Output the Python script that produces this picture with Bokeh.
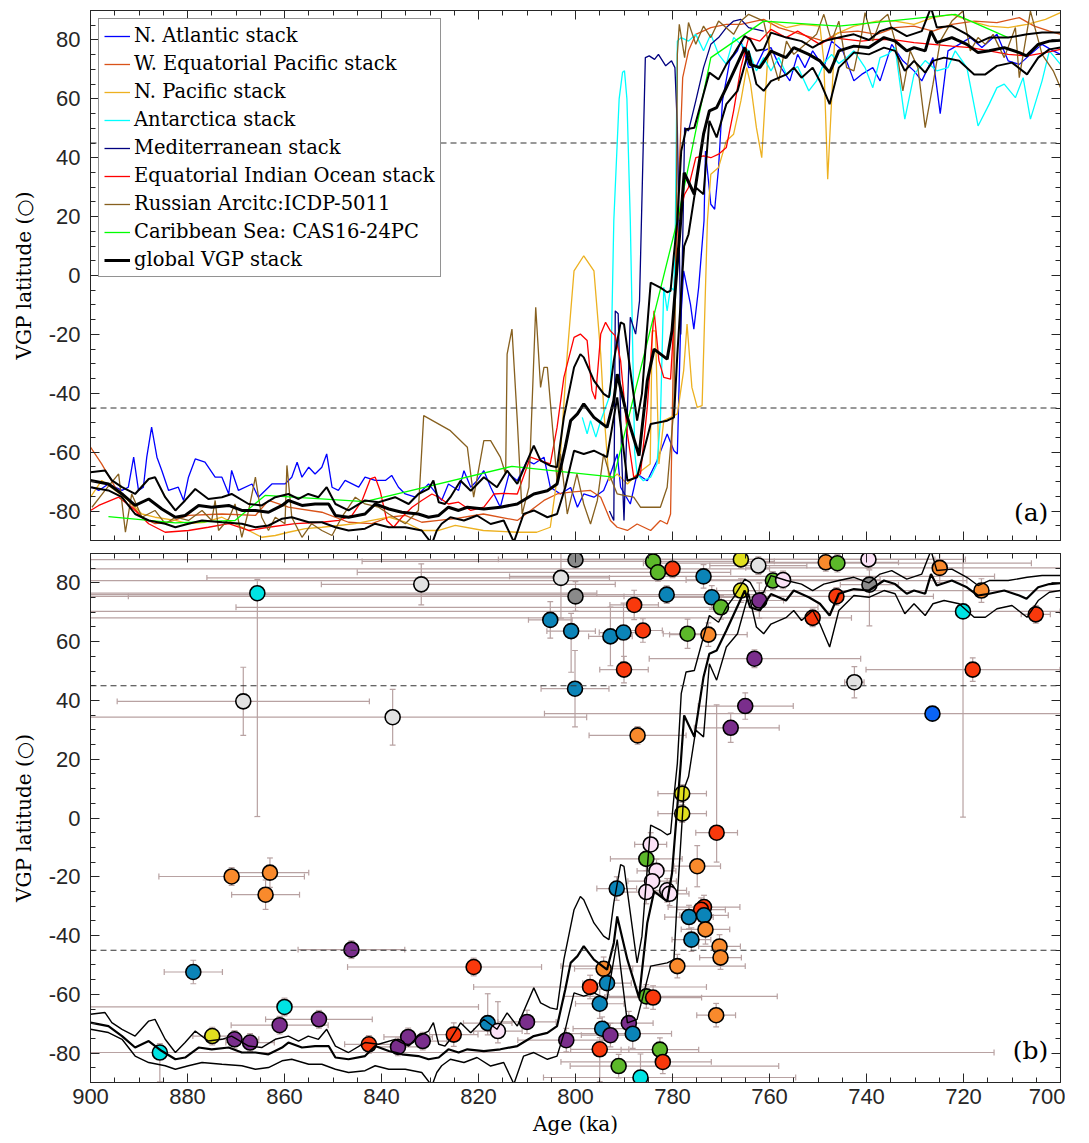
from bokeh.plotting import figure
from bokeh.models import Range1d, FixedTicker, LinearAxis, Span, Label
from bokeh.layouts import column
from bokeh.embed import file_html
from bokeh.resources import INLINE

# ---------------- panel (a): regional stacks ----------------
na_age = [899.7, 898.3, 896.3, 893.5, 892.2, 891.1, 890.1, 889.1, 888.4, 887.4, 886.3, 885.3, 883.9, 881.9, 880.8, 879.8, 878.4, 876.4, 874.3, 872.9, 871.5, 870.9, 869.5, 866.7, 865.4, 862.6, 859.9, 858.5, 857.4, 856.4, 855.0, 853.7, 852.3, 851.3, 850.2, 848.9, 847.5, 844.7, 843.4, 841.3, 839.2, 837.9, 836.5, 835.1, 833.0, 830.3, 827.6, 826.2, 824.1, 823.0, 821.6, 820.3, 818.9, 817.5, 815.5, 813.7, 812.0, 810.0, 808.6, 806.5, 805.2, 803.1, 801.0, 799.6, 798.3, 796.2, 794.2, 792.8, 791.4, 790.7, 788.7, 787.3, 785.2, 783.2, 781.1, 779.7, 779.0, 778.3, 777.7, 776.3, 775.6, 774.6, 773.5, 773.2, 772.1, 771.3, 770.5, 769.7, 768.2, 766.6, 765.9, 764.3, 762.7, 761.2, 759.7, 758.1, 755.8, 754.2, 752.7, 751.1, 748.8, 747.2, 744.9, 742.6, 741.0, 738.7, 737.2, 734.8, 732.5, 730.2, 728.6, 726.3, 724.8, 723.2, 720.9, 718.6, 716.2, 713.1, 710.8, 708.5, 706.2, 703.8, 701.5, 700.0]
na_lat = [-71.9, -73.0, -70.8, -73.0, -71.9, -61.7, -73.0, -71.9, -61.7, -51.5, -61.7, -66.2, -73.0, -71.9, -76.4, -68.5, -62.3, -63.4, -68.5, -68.5, -74.2, -66.2, -73.0, -70.8, -75.3, -70.8, -70.8, -68.5, -63.4, -68.5, -65.1, -67.4, -65.1, -60.6, -71.9, -73.0, -69.6, -71.9, -68.5, -69.6, -69.6, -67.9, -71.9, -74.2, -75.3, -70.8, -76.4, -70.8, -73.0, -66.3, -71.9, -69.7, -66.3, -71.9, -78.7, -67.4, -69.7, -62.9, -64.0, -61.7, -71.9, -74.2, -72.0, -78.7, -74.2, -75.3, -73.0, -67.4, -60.6, -71.9, -77.6, -67.4, -69.7, -62.9, -53.8, -59.5, -60.6, -15.4, 1.6, -9.7, -18.2, -4.0, 18.6, 42.3, 24.2, 22.5, 36.7, 59.3, 72.9, 76.3, 79.6, 70.6, 71.2, 76.3, 77.4, 71.7, 66.1, 75.1, 70.6, 76.3, 70.6, 79.6, 76.3, 66.1, 68.3, 70.6, 66.1, 78.5, 72.9, 69.5, 66.1, 74.0, 55.0, 76.3, 78.5, 80.8, 77.4, 81.9, 72.9, 71.7, 75.1, 78.5, 76.3, 75.1]

wep_age = [900.0, 897.7, 894.9, 892.2, 889.4, 886.7, 883.9, 879.8, 872.9, 866.0, 863.3, 859.2, 852.3, 846.8, 842.0, 838.5, 835.1, 831.7, 828.2, 824.8, 819.0, 812.0, 806.5, 803.8, 801.0, 796.9, 794.8, 792.8, 791.4, 789.3, 787.3, 784.5, 782.5, 781.1, 780.4, 779.7, 779.0, 777.9, 776.7, 775.2, 772.1, 768.9, 765.9, 761.2, 758.1, 753.4, 748.8, 745.7, 741.8, 737.9, 734.1, 730.2, 726.3, 722.4, 717.8, 713.1, 708.5, 705.4, 702.3, 700.0]
wep_lat = [-58.3, -64.0, -71.9, -76.4, -82.1, -84.3, -83.8, -81.5, -81.0, -81.5, -76.4, -78.7, -80.4, -83.8, -84.3, -82.1, -81.5, -83.8, -83.2, -82.6, -81.0, -83.2, -76.4, -74.2, -73.6, -73.0, -75.3, -83.2, -85.5, -86.6, -84.4, -86.6, -83.2, -84.4, -81.0, -15.4, 18.6, 67.2, 76.3, 81.9, 84.2, 85.3, 85.3, 87.0, 84.2, 81.9, 79.6, 82.5, 83.0, 81.9, 84.2, 84.7, 83.0, 85.3, 86.4, 85.9, 87.6, 84.7, 83.0, 81.9]

np_age = [900.0, 897.7, 894.9, 892.2, 889.4, 886.7, 882.5, 879.8, 876.4, 872.9, 870.2, 867.4, 864.7, 861.9, 859.2, 855.7, 852.3, 848.8, 845.4, 842.0, 838.5, 835.1, 831.7, 828.2, 824.8, 819.0, 812.0, 808.0, 805.2, 803.1, 801.7, 800.3, 798.3, 796.2, 794.8, 794.2, 793.1, 791.4, 789.3, 787.3, 784.6, 784.2, 783.5, 782.8, 781.8, 780.4, 779.0, 777.7, 777.0, 776.0, 774.9, 773.9, 772.8, 772.1, 770.5, 768.9, 767.4, 765.9, 764.7, 763.9, 762.7, 761.6, 760.5, 759.7, 756.5, 753.4, 749.6, 748.8, 748.0, 747.2, 746.5, 742.6, 737.9, 734.1, 730.2, 726.3, 722.4, 718.6, 714.7, 710.8, 706.9, 703.1, 700.0]
np_lat = [-75.3, -69.6, -73.0, -76.4, -81.0, -82.1, -83.2, -84.3, -83.8, -82.1, -84.3, -86.6, -88.9, -88.3, -87.2, -86.0, -85.5, -84.9, -84.3, -83.2, -82.1, -83.8, -86.6, -86.6, -84.9, -86.6, -87.2, -87.2, -85.5, -60.6, -26.7, 1.6, 6.7, 1.6, -26.7, -44.8, -69.7, -67.4, -70.8, -67.4, -64.0, -18.8, -18.8, -64.0, -49.3, -48.2, -47.0, -32.3, -16.5, -38.0, -44.8, -44.2, 18.6, 34.4, 36.7, 45.7, 48.0, 59.3, 70.6, 65.0, 50.2, 40.0, 70.6, 86.4, 84.2, 85.3, 84.7, 72.9, 32.7, 59.3, 81.9, 84.7, 86.4, 86.4, 85.3, 87.6, 88.7, 86.4, 84.7, 84.2, 85.3, 87.0, 89.3]

ant_age = [798.6, 797.6, 796.9, 795.8, 794.8, 793.8, 792.8, 792.1, 791.0, 790.3, 789.9, 789.4, 788.7, 787.8, 787.3, 786.0, 784.5, 783.2, 782.5, 781.8, 781.1, 780.4, 779.7, 779.4, 779.0, 778.2, 776.7, 775.2, 773.6, 772.1, 770.5, 768.9, 767.4, 765.9, 764.3, 762.7, 761.2, 759.7, 758.1, 756.5, 754.2, 751.9, 750.3, 748.8, 747.2, 745.7, 744.1, 742.6, 740.3, 738.7, 737.2, 735.6, 734.1, 732.1, 730.2, 727.9, 725.5, 723.2, 721.7, 719.3, 717.0, 714.7, 713.1, 711.6, 709.3, 707.7, 706.2, 703.8, 702.3, 700.0]
ant_lat = [-48.2, -53.8, -49.3, -54.9, -49.3, -44.8, -40.2, 18.6, 60.0, 69.0, 69.5, 60.0, 18.6, -60.0, -67.4, -69.7, -68.5, -64.0, -49.3, -4.0, -12.0, -4.0, -5.0, 18.6, 79.6, 80.8, 79.6, 81.9, 76.3, 81.9, 75.1, 71.7, 80.8, 78.5, 76.3, 69.5, 74.0, 69.5, 74.0, 68.3, 71.0, 62.7, 66.1, 72.0, 75.1, 72.0, 74.0, 76.3, 70.6, 63.8, 74.0, 75.1, 77.4, 53.1, 68.3, 73.0, 69.5, 70.6, 76.3, 70.6, 50.8, 58.2, 63.8, 65.0, 60.4, 67.2, 53.1, 66.1, 76.3, 71.7]

med_age = [793.0, 792.1, 791.8, 791.2, 790.5, 790.0, 788.7, 787.6, 786.8, 785.6, 784.8, 783.7, 782.9, 781.4, 780.2, 779.5, 779.0, 778.3, 777.8, 777.5, 776.7, 775.2, 773.6, 772.1, 770.5, 768.9, 767.4, 765.9, 764.3, 761.2]
med_lat = [-80.0, -83.2, -12.0, -13.0, -60.6, -83.2, -14.2, -19.9, -8.6, 74.0, 74.6, 73.4, 75.1, 71.2, 72.9, 70.6, 50.2, -20.0, 20.0, 50.2, 49.1, 59.3, 70.6, 78.5, 80.8, 84.2, 86.4, 87.0, 84.2, 83.0]

eio_age = [900.0, 898.3, 894.2, 891.5, 888.0, 884.6, 879.8, 875.7, 871.5, 867.4, 863.3, 857.8, 852.3, 848.8, 846.1, 844.0, 842.3, 841.3, 840.3, 838.9, 837.5, 835.8, 833.7, 831.7, 829.6, 828.2, 826.2, 824.1, 821.6, 818.9, 816.8, 814.8, 812.0, 809.3, 807.2, 805.2, 803.8, 802.4, 800.3, 799.0, 797.6, 796.6, 795.9, 794.8, 793.8, 792.8, 791.8, 790.7, 789.3, 788.0, 786.6, 785.2, 783.8, 782.8, 781.8, 780.4, 779.7, 779.0, 777.5, 776.7, 775.2, 773.6, 772.1, 770.5, 768.9, 767.4, 765.9, 764.3, 762.0, 759.7, 756.6, 754.2, 751.9, 749.6, 747.2, 744.1, 741.0, 737.9, 734.1, 730.2, 726.3, 722.4, 718.6, 714.7, 710.8, 706.9, 703.1, 700.0]
eio_lat = [-79.8, -78.1, -75.3, -78.7, -84.3, -87.2, -86.6, -85.5, -84.3, -86.6, -85.5, -84.3, -83.8, -83.2, -81.5, -76.4, -69.1, -68.5, -73.0, -83.2, -85.5, -82.1, -78.7, -76.4, -74.2, -75.3, -77.6, -77.0, -79.8, -78.7, -74.2, -74.0, -74.2, -61.7, -62.9, -64.0, -51.6, -34.6, -21.0, -19.9, -22.1, -39.1, -42.0, -19.9, -15.9, -18.8, -20.5, -28.9, -53.8, -68.5, -67.4, -44.8, -12.0, -28.9, -34.6, -35.2, -15.4, 18.6, 27.6, 29.9, 40.0, 40.6, 40.0, 41.2, 43.5, 55.9, 70.6, 80.8, 79.6, 83.6, 80.8, 83.0, 80.8, 78.5, 80.8, 80.2, 79.6, 80.2, 80.0, 79.1, 78.5, 77.9, 77.4, 76.3, 75.1, 74.6, 75.7, 76.8]

ra_age = [899.7, 897.0, 894.2, 892.8, 891.5, 889.4, 886.7, 884.6, 882.5, 879.8, 877.0, 875.0, 874.3, 873.6, 871.5, 870.2, 868.8, 867.4, 866.0, 864.7, 863.3, 861.9, 859.9, 859.5, 858.5, 856.4, 854.4, 852.3, 850.2, 848.2, 845.4, 843.4, 840.6, 838.5, 835.1, 832.4, 831.3, 825.8, 822.3, 821.0, 818.9, 817.5, 815.5, 814.4, 814.1, 813.1, 812.0, 811.0, 809.6, 808.2, 807.2, 806.5, 805.8, 803.8, 803.1, 801.7, 799.7, 798.3, 796.9, 795.5, 794.2, 792.8, 791.4, 790.0, 788.0, 786.6, 782.5, 781.1, 779.7, 779.2, 779.0, 778.6, 777.5, 776.7, 775.2, 773.6, 772.1, 770.5, 767.4, 765.9, 764.3, 761.2, 759.7, 758.1, 756.5, 755.0, 753.4, 751.9, 750.3, 748.8, 747.2, 745.7, 744.1, 742.6, 741.0, 740.3, 738.7, 737.2, 735.6, 734.1, 732.5, 731.0, 729.4, 727.9, 726.3, 724.8, 722.4, 720.1, 718.6, 717.0, 715.5, 713.9, 711.6, 709.3, 708.5, 706.2, 703.8, 701.5, 700.0]
ra_lat = [-78.7, -73.0, -67.4, -87.2, -74.2, -82.1, -79.8, -84.3, -82.1, -83.2, -79.8, -83.2, -76.4, -86.6, -82.6, -77.6, -88.9, -79.8, -68.5, -82.1, -86.6, -82.1, -84.3, -64.5, -82.1, -88.9, -84.3, -86.6, -88.3, -82.1, -75.3, -77.6, -78.7, -81.0, -84.3, -79.8, -47.6, -52.7, -58.3, -75.3, -56.1, -56.1, -61.7, -67.4, -26.7, -18.2, -49.3, -81.0, -71.9, -10.8, -38.0, -31.2, -31.2, -69.7, -60.6, -81.0, -67.4, -77.6, -84.4, -76.4, -60.6, -68.5, -74.2, -74.7, -75.3, -78.7, -78.7, -71.9, -44.8, 18.6, 75.1, 85.3, 74.0, 85.9, 78.5, 84.7, 80.8, 86.4, 81.9, 86.4, 88.7, 86.4, 75.1, 66.1, 79.6, 75.1, 77.4, 79.6, 81.9, 88.7, 79.6, 86.4, 70.6, 69.5, 81.9, 89.3, 79.6, 86.4, 88.7, 79.6, 62.7, 76.3, 70.6, 50.2, 64.9, 79.6, 86.4, 89.8, 76.3, 80.8, 78.5, 81.9, 74.0, 84.2, 67.2, 89.8, 75.1, 69.5, 63.8]

car_age = [896.3, 882.5, 870.2, 864.0, 843.4, 813.1, 792.1, 779.0, 772.1, 761.2, 745.7, 721.7, 710.8]
car_lat = [-81.9, -84.0, -83.2, -74.7, -76.8, -64.8, -68.5, 18.6, 74.0, 86.4, 84.7, 88.7, 80.8]

# ---------------- global VGP stack (centre, upper, lower) ----------------
gc_age = [900.0, 896.3, 893.5, 890.8, 888.0, 885.3, 882.5, 880.5, 877.7, 875.0, 871.5, 868.8, 866.0, 863.3, 860.5, 859.2, 856.4, 853.7, 850.9, 849.5, 846.8, 843.4, 841.3, 838.5, 835.8, 832.4, 830.3, 828.2, 826.2, 824.1, 822.3, 818.9, 815.5, 812.0, 808.6, 805.8, 803.8, 802.1, 801.0, 799.6, 798.3, 796.2, 793.5, 792.1, 791.4, 789.3, 786.9, 785.2, 783.8, 781.1, 780.1, 778.3, 777.6, 775.5, 773.6, 772.4, 770.9, 768.9, 767.0, 765.1, 764.0, 762.0, 759.7, 756.6, 755.0, 751.9, 749.6, 747.6, 745.7, 742.6, 739.5, 736.4, 734.1, 731.7, 730.2, 727.9, 726.7, 725.5, 722.4, 719.3, 717.0, 714.7, 711.6, 708.5, 707.0, 704.6, 702.3, 700.0]
gc_lat = [-69.6, -70.8, -74.2, -78.1, -75.9, -79.3, -82.1, -81.5, -78.1, -78.7, -78.1, -79.8, -79.8, -80.4, -78.1, -76.4, -78.1, -77.6, -77.6, -81.5, -82.1, -81.0, -77.6, -79.3, -80.4, -81.0, -82.1, -81.5, -78.7, -79.8, -78.7, -79.3, -78.7, -77.6, -74.2, -73.1, -70.8, -58.3, -49.3, -47.0, -43.6, -48.2, -51.6, -42.5, -33.5, -48.2, -61.2, -35.7, -25.0, -28.4, -18.8, 18.6, 34.9, 27.6, 48.0, 55.9, 57.0, 63.8, 70.6, 77.4, 71.7, 70.6, 76.2, 74.0, 77.4, 75.1, 72.9, 68.9, 76.3, 77.9, 77.4, 80.8, 79.6, 76.3, 77.4, 76.3, 83.0, 79.1, 80.8, 78.5, 75.7, 76.3, 77.4, 75.7, 74.6, 78.5, 79.6, 79.9]

gu_age = [900.0, 897.0, 895.6, 893.5, 890.8, 888.0, 886.7, 884.6, 882.5, 880.5, 878.4, 875.7, 872.9, 870.9, 867.4, 864.7, 861.9, 859.2, 857.1, 855.1, 853.0, 851.3, 849.5, 846.8, 843.4, 840.6, 837.2, 834.4, 832.4, 830.3, 829.3, 828.2, 826.9, 825.8, 823.7, 821.6, 818.9, 816.2, 814.1, 812.0, 808.6, 807.2, 805.2, 803.8, 802.4, 800.3, 799.0, 798.3, 796.2, 794.2, 793.1, 792.1, 790.7, 790.0, 788.7, 787.3, 786.3, 784.5, 782.5, 781.1, 780.4, 779.7, 779.0, 778.2, 777.2, 775.5, 774.0, 772.4, 770.5, 768.9, 767.4, 765.1, 764.0, 762.7, 761.2, 759.7, 756.5, 753.4, 751.1, 748.8, 745.7, 742.6, 739.5, 737.2, 734.8, 731.7, 728.6, 726.7, 725.5, 722.4, 719.3, 717.0, 714.7, 710.8, 706.9, 703.8, 700.0]
gu_lat = [-66.8, -66.2, -69.6, -71.9, -74.2, -69.1, -68.5, -75.3, -79.8, -76.4, -72.5, -75.9, -75.3, -74.2, -77.6, -78.1, -75.3, -74.2, -75.9, -74.2, -75.3, -71.9, -77.6, -79.8, -76.4, -77.0, -75.3, -77.6, -74.2, -72.5, -69.6, -77.0, -77.6, -75.3, -69.7, -73.1, -68.5, -71.9, -66.3, -70.8, -57.8, -62.9, -64.6, -65.1, -48.2, -31.2, -26.7, -27.8, -35.7, -40.2, -41.4, -28.9, -15.9, -16.5, -32.3, -49.3, -40.2, -2.4, -4.1, -5.7, -5.2, 7.3, 18.6, 42.3, 49.7, 50.2, 59.3, 68.9, 66.6, 71.7, 75.1, 81.3, 80.2, 76.3, 76.8, 82.5, 80.8, 79.6, 77.4, 79.6, 80.8, 81.9, 80.0, 83.0, 84.2, 81.3, 83.0, 91.0, 84.2, 84.7, 81.9, 79.1, 80.8, 80.8, 81.9, 82.5, 82.5]

gl_age = [900.0, 896.3, 893.5, 890.8, 888.0, 884.6, 882.5, 879.8, 877.0, 872.9, 868.8, 866.0, 863.3, 860.5, 858.5, 855.0, 852.3, 849.5, 846.8, 843.4, 841.3, 838.5, 835.1, 831.7, 829.6, 828.6, 827.6, 825.8, 823.0, 820.3, 817.5, 814.8, 812.7, 810.7, 808.6, 805.8, 803.8, 802.1, 800.3, 798.3, 796.2, 793.5, 791.4, 789.3, 787.3, 784.5, 781.1, 779.7, 779.0, 777.6, 776.7, 775.2, 773.6, 772.4, 770.9, 768.9, 766.6, 764.3, 762.7, 761.2, 759.7, 756.5, 755.0, 753.4, 751.1, 749.6, 747.6, 745.7, 742.6, 739.5, 736.4, 734.1, 732.1, 730.2, 727.9, 726.3, 724.0, 720.9, 717.8, 715.5, 713.1, 710.0, 706.9, 704.6, 702.3, 700.0]
gl_lat = [-71.9, -73.0, -75.3, -81.0, -83.2, -84.3, -85.5, -84.3, -83.2, -83.8, -84.3, -85.5, -84.9, -82.6, -82.1, -83.8, -83.8, -85.5, -86.6, -86.0, -84.3, -85.5, -85.5, -86.6, -91.1, -86.6, -84.3, -82.1, -83.2, -81.5, -84.4, -83.2, -90.5, -81.0, -79.8, -82.1, -81.0, -71.9, -59.5, -60.6, -59.5, -61.7, -41.4, -69.7, -68.5, -50.4, -49.3, -48.2, -26.7, 10.0, 14.0, 29.9, 27.6, 52.5, 46.9, 58.2, 62.7, 76.3, 65.0, 62.7, 66.0, 68.3, 70.6, 67.2, 70.6, 66.0, 58.2, 70.6, 75.7, 75.1, 77.4, 76.3, 69.5, 72.9, 68.9, 72.9, 74.0, 72.9, 68.3, 68.3, 71.2, 72.3, 68.3, 74.0, 76.8, 77.4]

# ---------------- panel (b): individual records ----------------
pt_age = [865.6, 831.8, 868.5, 837.7, 800.0, 803.0, 800.0, 805.2, 800.9, 800.1, 792.8, 790.1, 787.9, 786.1, 790.0, 787.2, 784.0, 783.0, 780.0, 781.2, 773.6, 771.9, 770.0, 776.9, 772.6, 765.9, 762.3, 765.9, 762.1, 759.3, 757.2, 763.1, 765.0, 768.0, 748.4, 746.0, 739.6, 746.2, 751.1, 739.4, 724.9, 716.3, 720.1, 705.1, 718.1, 742.5, 726.4, 778.0, 778.0, 770.9,
          784.5, 785.4, 774.9, 783.3, 784.2, 791.5, 785.4, 781.1, 780.6, 773.5, 774.1, 776.6, 773.5, 773.2, 776.1, 770.3, 770.1, 779.0, 794.2, 793.5, 797.0, 795.0, 785.4, 784.0, 771.0, 789.0, 794.5, 792.8, 788.2, 801.9, 795.0, 782.6, 782.0, 791.1, 786.6,
          870.9, 863.0, 863.9, 846.2, 878.8, 821.0, 860.0, 852.9, 861.0, 818.1, 816.0, 810.0, 874.9, 825.1, 870.3, 867.1, 842.6, 834.5, 836.6, 831.5, 885.7]
pt_lat = [76.5, 79.5, 39.7, 34.3, 87.9, 81.7, 75.4, 67.4, 63.6, 44.0, 61.8, 63.1, 72.5, 63.8, 50.5, 28.1, 87.3, 83.6, 84.8, 76.0, 82.2, 75.1, 71.7, 62.7, 62.4, 88.0, 85.9, 77.4, 74.0, 80.8, 81.0, 54.2, 38.1, 30.7, 87.0, 86.7, 88.0, 75.4, 68.1, 79.4, 85.1, 77.4, 70.3, 69.3, 50.5, 46.2, 35.5, 8.3, 1.5, -5.0,
          -9.0, -13.9, -16.4, -18.0, -21.5, -24.0, -25.2, -24.6, -25.8, -30.3, -31.2, -33.7, -33.1, -37.9, -41.4, -43.7, -47.5, -50.4, -51.3, -56.2, -57.5, -63.2, -60.7, -61.1, -67.1, -69.8, -71.7, -73.9, -73.4, -75.6, -78.7, -78.8, -83.0, -84.4, -88.3,
          -19.9, -18.6, -26.1, -44.8, -52.4, -50.7, -64.3, -68.5, -70.5, -69.8, -72.5, -69.4, -74.2, -73.7, -75.3, -76.4, -77.0, -74.5, -77.9, -75.9, -79.8]
pt_group = ["cyan", "lgray", "lgray", "lgray", "dgray", "lgray", "dgray", "teal", "teal", "teal", "teal", "teal", "red", "red", "red", "orange", "green", "green", "red", "teal", "teal", "teal", "green", "green", "orange", "yellow", "lgray", "yellow", "purple", "green", "lpink", "purple", "purple", "purple", "orange", "green", "lpink", "red", "red", "dgray", "orange", "orange", "cyan", "red", "red", "lgray", "blue", "yellow", "yellow", "red",
            "lpink", "green", "orange", "lpink", "lpink", "teal", "lpink", "lpink", "lpink", "red", "red", "teal", "teal", "orange", "teal", "orange", "orange", "orange", "orange", "teal", "red", "teal", "green", "red", "orange", "purple", "teal", "purple", "teal", "purple", "red", "green", "red", "green", "cyan",
            "orange", "orange", "orange", "purple", "teal", "red", "cyan", "purple", "purple", "teal", "lpink", "purple", "yellow", "red", "purple", "purple", "red", "purple", "purple", "purple", "cyan"]
# age uncertainty towards older ages, towards younger ages (ka); latitude uncertainty down / up (deg)
err_old = [35, 20.6, 26, 70, 100, 73, 100, 4.5, 5, 7, 4.5, 5, 5, 4, 5, 10, 60, 62, 120, 119, 40, 10, 100, 5, 8, 50, 10, 5, 10, 141, 20, 21.7, 9.7, 7.5, 15, 40, 60, 146, 149, 6, 40, 50, 180, 3, 22, 2, 80, 5, 5, 4.3,
           3.3, 7.4, 4.8, 4, 5, 4.1, 5, 4, 4, 7.4, 5, 5, 5, 5, 4, 4.3, 4.3, 24, 6, 5, 24, 5, 17, 10, 4, 5, 6, 6, 14, 10, 6, 8, 21, 10, 20,
           15, 8, 7, 11, 6, 26, 40, 11, 10, 5, 5, 6, 4, 5, 5, 5, 5, 5, 5, 5, 15]
err_young = [70, 40, 26, 40, 15, 10, 10, 4.5, 5, 7, 4.5, 5, 5, 4, 5, 10, 25, 15, 20, 20, 60, 10, 20, 5, 8, 40, 10, 5, 5, 40, 20, 21.9, 9.9, 10, 15, 40, 20, 20, 8, 6, 30, 20, 20, 3, 18, 2, 30, 5, 5, 4.3,
             3.3, 7.4, 4.8, 4, 5, 4.1, 5, 4, 4, 7.4, 5, 5, 5, 5, 4, 4.3, 4.3, 14, 6, 5, 24, 5, 27, 10, 4, 5, 6, 6, 8, 10, 6, 8, 10, 33, 32,
             15, 8, 7, 11, 6, 14, 40, 11, 10, 5, 5, 6, 4, 5, 5, 5, 5, 5, 5, 5, 172]
err_down = [76, 7, 11.6, 9.5, 3, 13.7, 5, 6.2, 14, 13, 10, 10, 5, 4, 4.5, 3, 3, 3, 3, 3, 4, 4, 4, 5, 4, 3, 3, 4, 6, 3, 3, 3, 4.5, 5, 3, 3, 3, 3, 3, 14, 5, 4, 70, 3, 4, 5.3, 2, 3, 3, 10,
            4, 4, 7, 4, 4, 4, 4, 4, 4, 4, 4, 4, 4, 5, 4, 4, 4, 4, 4, 4, 4, 5, 4, 4, 4, 4, 4, 4, 5, 4, 11, 4, 4, 4, 4,
            3, 5, 5, 3, 4, 3, 3, 3, 3, 4, 4, 4, 3, 4, 3, 3, 3, 3, 3, 3, 10]
err_up = [4.7, 7, 11.6, 9.5, 3, 8.3, 5, 6.2, 6, 13, 10, 10, 5, 4, 4.5, 3, 3, 3, 3, 3, 4, 4, 4, 5, 4, 3, 3, 4, 6, 3, 3, 3, 4.5, 5, 3, 3, 3, 3, 3, 5, 5, 4, 20, 3, 4, 5.3, 2, 3, 3, 43.5,
          4, 4, 7, 4, 4, 4, 4, 4, 4, 4, 4, 4, 4, 5, 4, 4, 4, 4, 4, 4, 4, 5, 4, 4, 4, 4, 4, 4, 5, 4, 4, 4, 4, 4, 8,
          3, 5, 5, 3, 4, 3, 3, 3, 3, 10, 10, 4, 3, 4, 3, 3, 3, 3, 3, 3, 3]

y_ticks = [-80, -60, -40, -20, 0, 20, 40, 60, 80]
x_ticks = [900, 880, 860, 840, 820, 800, 780, 760, 740, 720, 700]

# ---------------- styling ----------------
GROUP_COLORS = {"teal": "#0B84B8", "orange": "#F98A2C", "red": "#F9390C", "green": "#5CB82A",
                "purple": "#7A2E8C", "lgray": "#E2E2E2", "dgray": "#8A8A8A", "yellow": "#E0DF1F",
                "cyan": "#00E3E3", "lpink": "#FBE2F7", "blue": "#0A64F5"}
AX = "#262626"
TICK_FONT = "Liberation Sans"
SERIF = "DejaVu Serif"
ERR_COL = "#B8A2A2"


def make_fig(height, b_top, b_bottom, show_x):
    p = figure(width=1065, height=height, x_range=Range1d(900, 700), y_range=Range1d(-90, 90),
               output_backend="svg", toolbar_location=None,
               min_border_left=90, min_border_right=5, min_border_top=b_top, min_border_bottom=b_bottom)
    p.grid.visible = False
    p.outline_line_color = None
    p.background_fill_color = "white"
    p.border_fill_color = "white"
    p.add_layout(LinearAxis(), "above")
    p.add_layout(LinearAxis(), "right")
    xt = FixedTicker(ticks=x_ticks, minor_ticks=list(range(700, 901, 5)))
    yt = FixedTicker(ticks=y_ticks, minor_ticks=list(range(-90, 91, 5)))
    for ax in p.xaxis:
        ax.ticker = xt
        ax.major_label_overrides = {t: str(t) for t in x_ticks}
    for ax in p.yaxis:
        ax.ticker = yt
        ax.major_label_overrides = {t: str(t) for t in y_ticks}
    for ax in p.xaxis + p.yaxis:
        ax.axis_line_color = AX
        ax.axis_line_width = 1
        ax.major_tick_line_color = AX
        ax.minor_tick_line_color = AX
        ax.major_tick_in = 9
        ax.major_tick_out = 0
        ax.minor_tick_in = 5
        ax.minor_tick_out = 0
        ax.major_label_text_font = TICK_FONT
        ax.major_label_text_font_size = "22px"
        ax.major_label_text_color = AX
        ax.major_label_standoff = 10
    hidden = [ax for ax in p.above + p.right if isinstance(ax, LinearAxis)]
    if not show_x:
        hidden.append(p.below[0])
    for ax in hidden:
        ax.major_label_text_font_size = "1px"
        ax.major_label_text_color = None
        ax.major_label_standoff = 0
    left = p.left[0]
    left.axis_label = "VGP latitude (\u25cb)"
    left.axis_label_text_font = SERIF
    left.axis_label_text_font_size = "20px"
    left.axis_label_text_font_style = "normal"
    left.axis_label_text_color = "black"
    left.axis_label_standoff = 10
    if show_x:
        bottom = p.below[0]
        bottom.axis_label = "Age (ka)"
        bottom.axis_label_text_font = SERIF
        bottom.axis_label_text_font_size = "20px"
        bottom.axis_label_text_font_style = "normal"
        bottom.axis_label_text_color = "black"
        bottom.axis_label_standoff = 5
        bottom.major_label_standoff = 6
    for lat in (45, -45):
        p.add_layout(Span(location=lat, dimension="width", line_color="#333333",
                          line_width=1, line_dash="6 4"))
    return p


# ---- panel (a)
pa = make_fig(546, 10, 6, False)
series = [
    (na_age, na_lat, "#0000FF", "N. Atlantic stack"),
    (wep_age, wep_lat, "#D95319", "W. Equatorial Pacific stack"),
    (np_age, np_lat, "#EDB120", "N. Pacific stack"),
    (ant_age, ant_lat, "#00FFFF", "Antarctica stack"),
    (med_age, med_lat, "#000080", "Mediterranean stack"),
    (eio_age, eio_lat, "#FF0000", "Equatorial Indian Ocean stack"),
    (ra_age, ra_lat, "#87601F", "Russian Arcitc:ICDP-5011"),
    (car_age, car_lat, "#00FF00", "Caribbean Sea: CAS16-24PC"),
]
for xs, ys, col, lab in series:
    pa.line(xs, ys, line_color=col, line_width=1.3, legend_label=lab)
pa.line(gu_age, gu_lat, line_color="black", line_width=2)
pa.line(gl_age, gl_lat, line_color="black", line_width=2)
pa.line(gc_age, gc_lat, line_color="black", line_width=3, legend_label="global VGP stack")

lg = pa.legend[0]
lg.location = "top_left"
lg.margin = 8
lg.padding = 5
lg.spacing = 5
lg.label_height = 20
lg.glyph_height = 20
lg.glyph_width = 26
lg.label_standoff = 4
lg.label_text_font = SERIF
lg.label_text_font_size = "19.5px"
lg.label_text_color = "black"
lg.border_line_color = AX
lg.border_line_width = 1
lg.background_fill_color = "white"
lg.background_fill_alpha = 1

pa.add_layout(Label(x=702.5, y=-80.5, text="(a)", text_align="right", text_baseline="middle",
                    text_font=SERIF, text_font_size="25px", text_color="black"))

# ---- panel (b)
pb = make_fig(596, 7, 60, True)

hx0 = [a + e for a, e in zip(pt_age, err_old)]
hx1 = [a - e for a, e in zip(pt_age, err_young)]
vy0 = [l - e for l, e in zip(pt_lat, err_down)]
vy1 = [l + e for l, e in zip(pt_lat, err_up)]
CAP_Y = 1.0
CAP_X = 0.6
pb.segment(hx0, pt_lat, hx1, pt_lat, line_color=ERR_COL, line_width=1.2)
pb.segment(pt_age, vy0, pt_age, vy1, line_color=ERR_COL, line_width=1.2)
cap_x = hx0 + hx1
cap_yc = pt_lat + pt_lat
pb.segment(cap_x, [y - CAP_Y for y in cap_yc], cap_x, [y + CAP_Y for y in cap_yc],
           line_color=ERR_COL, line_width=1.2)
cap_y = vy0 + vy1
cap_xc = pt_age + pt_age
pb.segment([x - CAP_X for x in cap_xc], cap_y, [x + CAP_X for x in cap_xc], cap_y,
           line_color=ERR_COL, line_width=1.2)

pb.scatter(pt_age, pt_lat, size=15, marker="circle",
           fill_color=[GROUP_COLORS[g] for g in pt_group], line_color="black", line_width=1.6)

pb.line(gu_age, gu_lat, line_color="black", line_width=1.4)
pb.line(gl_age, gl_lat, line_color="black", line_width=1.4)
pb.line(gc_age, gc_lat, line_color="black", line_width=2.2)

pb.add_layout(Label(x=702.5, y=-79, text="(b)", text_align="right", text_baseline="middle",
                    text_font=SERIF, text_font_size="25px", text_color="black"))

layout = column(pa, pb, spacing=0)
open("out.html", "w").write(file_html(layout, INLINE))
